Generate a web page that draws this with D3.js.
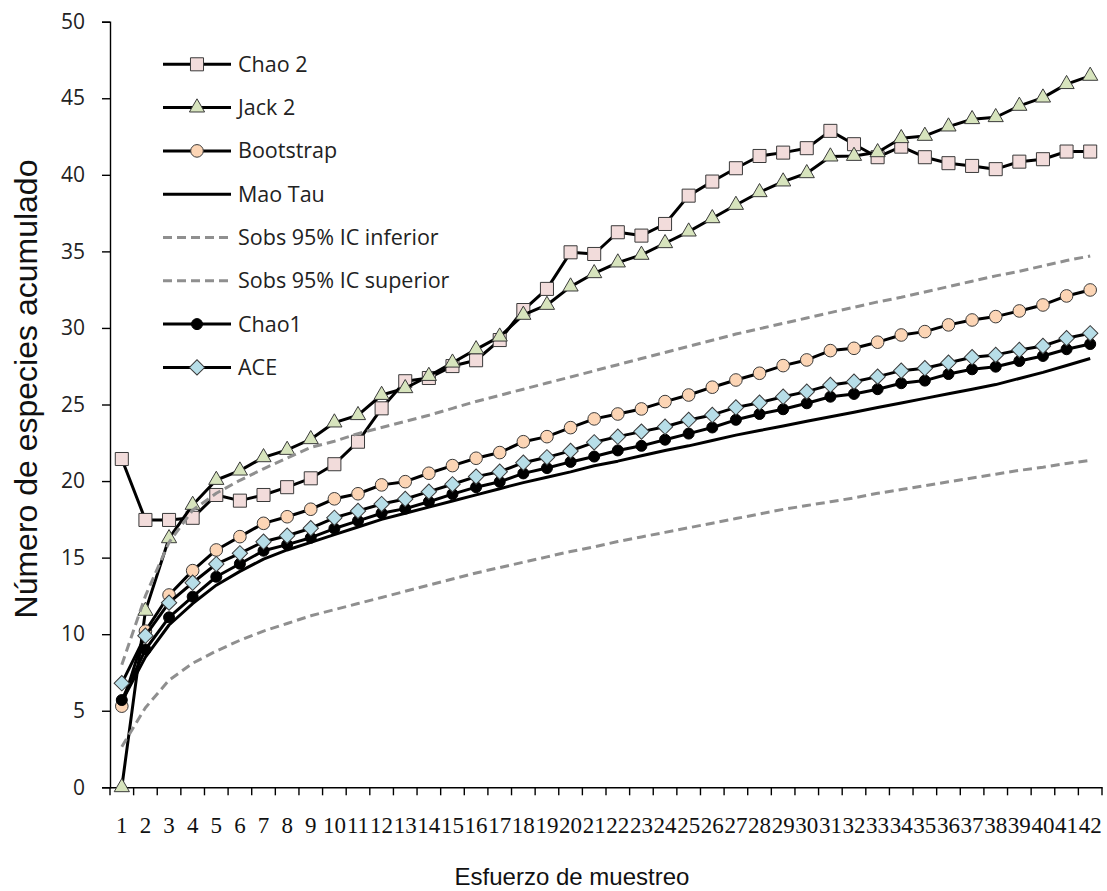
<!DOCTYPE html>
<html>
<head>
<meta charset="utf-8">
<script src="https://cdn.jsdelivr.net/npm/d3@7"></script>
<style>
  html, body { margin: 0; padding: 0; background: #ffffff; }
  svg { display: block; }
</style>
</head>
<body>
<svg id="chart" width="1107" height="891"></svg>
<script>
// Sampling effort (number of samples)
const samples = [1, 2, 3, 4, 5, 6, 7, 8, 9, 10, 11, 12, 13, 14, 15, 16, 17, 18, 19, 20, 21,
  22, 23, 24, 25, 26, 27, 28, 29, 30, 31, 32, 33, 34, 35, 36, 37, 38, 39, 40, 41, 42];

// Richness estimators, one value per sample
const chao2 = [21.44, 17.46, 17.46, 17.6, 19.09, 18.72, 19.09, 19.6, 20.18, 21.1, 22.57, 24.75,
  26.52, 26.73, 27.51, 27.89, 29.21, 31.17, 32.55, 34.94, 34.83, 36.25, 36.03, 36.79, 38.64,
  39.56, 40.43, 41.23, 41.45, 41.74, 42.87, 42.0, 41.15, 41.84, 41.15, 40.76, 40.58, 40.37,
  40.86, 41.02, 41.52, 41.52];
const jack2 = [0, 11.52, 16.26, 18.44, 20.07, 20.68, 21.55, 22.03, 22.73, 23.82, 24.3, 25.62,
  26.06, 26.86, 27.73, 28.6, 29.43, 30.85, 31.5, 32.7, 33.57, 34.27, 34.77, 35.53, 36.29,
  37.16, 38.03, 38.86, 39.56, 40.1, 41.19, 41.23, 41.47, 42.39, 42.54, 43.15, 43.63, 43.76,
  44.5, 45.04, 45.92, 46.46];
const bootstrap = [5.3, 10.2, 12.56, 14.15, 15.5, 16.37, 17.24, 17.67, 18.16, 18.84, 19.17,
  19.75, 19.96, 20.51, 21.01, 21.49, 21.86, 22.57, 22.9, 23.49, 24.06, 24.38, 24.71, 25.19,
  25.62, 26.13, 26.6, 27.04, 27.54, 27.91, 28.52, 28.67, 29.07, 29.54, 29.76, 30.2, 30.52,
  30.74, 31.11, 31.5, 32.09, 32.48];
const maoTau = [5.6, 8.5, 10.6, 12.0, 13.2, 14.1, 14.9, 15.5, 16.0, 16.5, 17.0, 17.5, 17.9,
  18.3, 18.7, 19.1, 19.5, 19.9, 20.25, 20.6, 21.0, 21.3, 21.65, 22.0, 22.3, 22.65, 23.0,
  23.3, 23.6, 23.9, 24.2, 24.5, 24.8, 25.1, 25.4, 25.7, 26.0, 26.3, 26.7, 27.1, 27.55, 28.0];
const sobsLower = [2.65, 5.2, 7.0, 8.1, 8.9, 9.6, 10.2, 10.7, 11.2, 11.6, 12.0, 12.4, 12.8,
  13.2, 13.6, 14.0, 14.35, 14.7, 15.05, 15.4, 15.7, 16.05, 16.35, 16.65, 16.95, 17.25, 17.55,
  17.85, 18.15, 18.4, 18.65, 18.9, 19.2, 19.45, 19.7, 19.95, 20.2, 20.45, 20.7, 20.9, 21.15, 21.35];
const sobsUpper = [8.0, 12.5, 16.0, 18.1, 19.2, 20.05, 20.8, 21.5, 22.2, 22.6, 23.1, 23.5,
  23.9, 24.3, 24.75, 25.2, 25.6, 26.0, 26.4, 26.8, 27.2, 27.6, 28.0, 28.4, 28.8, 29.2, 29.6,
  29.95, 30.3, 30.65, 31.0, 31.35, 31.7, 32.0, 32.35, 32.7, 33.05, 33.4, 33.7, 34.05, 34.4, 34.7];
const chao1 = [5.7, 9.0, 11.1, 12.45, 13.75, 14.6, 15.45, 15.85, 16.3, 16.9, 17.4, 17.9, 18.2,
  18.65, 19.15, 19.6, 19.95, 20.5, 20.85, 21.25, 21.6, 22.0, 22.3, 22.7, 23.1, 23.5, 24.0,
  24.38, 24.69, 25.08, 25.51, 25.69, 26.0, 26.39, 26.56, 26.99, 27.3, 27.47, 27.84, 28.17,
  28.61, 28.95];
const ace = [6.8, 9.9, 12.06, 13.36, 14.58, 15.28, 16.04, 16.43, 16.92, 17.6, 18.05, 18.5,
  18.83, 19.31, 19.79, 20.29, 20.61, 21.2, 21.55, 21.97, 22.53, 22.9, 23.23, 23.55, 23.99,
  24.32, 24.81, 25.12, 25.51, 25.84, 26.28, 26.49, 26.82, 27.21, 27.37, 27.73, 28.09, 28.24,
  28.56, 28.82, 29.33, 29.65];

const yTicks = [0, 5, 10, 15, 20, 25, 30, 35, 40, 45, 50];

const seriesNames = ["Chao 2", "Jack 2", "Bootstrap", "Mao Tau",
  "Sobs 95% IC inferior", "Sobs 95% IC superior", "Chao1", "ACE"];

// ---- drawing ----
const svg = d3.select("#chart");
const plot = { left: 110, right: 1102, top: 21.7, bottom: 787.3 };

const x = d3.scaleBand().domain(samples).range([plot.left, plot.right]).padding(0);
const cx = d => x(d) + x.bandwidth() / 2;
const y = d3.scaleLinear().domain([0, 50]).range([plot.bottom, plot.top]);

const tickFont = "'Open Sans', 'Noto Sans', sans-serif";

// y axis
const yAxis = svg.append("g")
  .attr("transform", `translate(${plot.left},0)`)
  .call(d3.axisLeft(y).tickValues(yTicks).tickSize(8).tickPadding(17).tickFormat(d3.format("d")));
yAxis.select(".domain").attr("stroke", "#000").attr("stroke-width", 1.4);
yAxis.selectAll(".tick line").attr("stroke", "#000").attr("stroke-width", 1.4);
yAxis.selectAll(".tick text")
  .attr("font-family", tickFont).attr("font-size", 21).attr("fill", "#222");

// x axis: baseline, boundary ticks between categories, labels at category centres
const xAxis = svg.append("g")
  .attr("transform", `translate(0,${plot.bottom})`)
  .call(d3.axisBottom(x).tickSize(0).tickPadding(29));
xAxis.select(".domain").attr("stroke", "#000").attr("stroke-width", 1.4);
xAxis.selectAll(".tick text")
  .attr("font-family", "'Liberation Serif', 'DejaVu Serif', serif")
  .attr("font-size", 23).attr("fill", "#111");
const bounds = samples.map(d => x(d)).concat([x.range()[1]]);
xAxis.selectAll("line.bound").data(bounds).enter().append("line")
  .attr("class", "bound")
  .attr("x1", d => d).attr("x2", d => d)
  .attr("y1", 0).attr("y2", 8)
  .attr("stroke", "#000").attr("stroke-width", 1.4);

// axis titles
svg.append("text")
  .attr("x", 572).attr("y", 885)
  .attr("text-anchor", "middle")
  .attr("font-family", "'Liberation Sans', Arial, sans-serif")
  .attr("font-size", 24).attr("fill", "#111")
  .text("Esfuerzo de muestreo");
svg.append("text")
  .attr("transform", "translate(37,389) rotate(-90)")
  .attr("text-anchor", "middle")
  .attr("font-family", "'Liberation Sans', Arial, sans-serif")
  .attr("font-size", 32).attr("fill", "#111")
  .text("Número de especies acumulado");

// series styles
const markerStroke = "#3a3a3a";
const styles = {
  "Chao 2": { data: chao2, marker: "square", fill: "#F2DCDB" },
  "Jack 2": { data: jack2, marker: "triangle", fill: "#D7E4BD" },
  "Bootstrap": { data: bootstrap, marker: "circle", fill: "#FCD5B5" },
  "Mao Tau": { data: maoTau, marker: null },
  "Sobs 95% IC inferior": { data: sobsLower, marker: null, dashed: true },
  "Sobs 95% IC superior": { data: sobsUpper, marker: null, dashed: true },
  "Chao1": { data: chao1, marker: "dot", fill: "#000" },
  "ACE": { data: ace, marker: "diamond", fill: "#B7DEE8" }
};

function markerPath(kind) {
  switch (kind) {
    case "square": return d3.symbol(d3.symbolSquare, 170)();
    case "triangle": return d3.symbol(d3.symbolTriangle, 100)();
    case "circle": return d3.symbol(d3.symbolCircle, 125)();
    case "dot": return d3.symbol(d3.symbolCircle, 95)();
    case "diamond": return d3.symbol(d3.symbolSquare, 118)();
  }
  return null;
}
function markerTransform(kind, px, py) {
  return kind === "diamond"
    ? `translate(${px},${py}) rotate(45)`
    : `translate(${px},${py})`;
}

const line = d3.line().x((d, i) => cx(samples[i])).y(d => y(d));

const seriesLayer = svg.append("g");
seriesNames.forEach(name => {
  const s = styles[name];
  const g = seriesLayer.append("g");
  g.append("path")
    .attr("d", line(s.data))
    .attr("fill", "none")
    .attr("stroke", s.dashed ? "#8f8f8f" : "#000")
    .attr("stroke-width", 3)
    .attr("stroke-dasharray", s.dashed ? "9,5" : null)
    .attr("stroke-linejoin", "round");
  if (s.marker) {
    g.selectAll("path.mk").data(s.data).enter().append("path")
      .attr("class", "mk")
      .attr("d", markerPath(s.marker))
      .attr("transform", (d, i) => markerTransform(s.marker, cx(samples[i]), y(d)))
      .attr("fill", s.fill)
      .attr("stroke", s.marker === "dot" ? "#000" : markerStroke)
      .attr("stroke-width", 1);
  }
});

// legend
const legend = svg.append("g");
const legY0 = 64.3, legStep = 43.3;
seriesNames.forEach((name, i) => {
  const s = styles[name];
  const ly = legY0 + i * legStep;
  legend.append("line")
    .attr("x1", 163).attr("x2", 231).attr("y1", ly).attr("y2", ly)
    .attr("stroke", s.dashed ? "#8f8f8f" : "#000")
    .attr("stroke-width", 3)
    .attr("stroke-dasharray", s.dashed ? "9,5" : null);
  if (s.marker) {
    legend.append("path")
      .attr("d", markerPath(s.marker))
      .attr("transform", markerTransform(s.marker, 197, ly))
      .attr("fill", s.fill)
      .attr("stroke", s.marker === "dot" ? "#000" : markerStroke)
      .attr("stroke-width", 1);
  }
  legend.append("text")
    .attr("x", 238).attr("y", ly)
    .attr("dy", "0.35em")
    .attr("font-family", tickFont)
    .attr("font-size", 21.5).attr("fill", "#222")
    .text(name);
});
</script>
</body>
</html>
